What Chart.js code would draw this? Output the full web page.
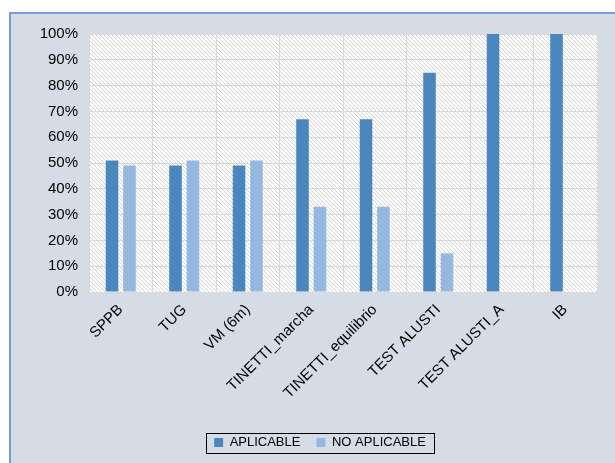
<!DOCTYPE html>
<html>
<head>
<meta charset="utf-8">
<script src="https://cdn.jsdelivr.net/npm/chart.js@4"></script>
<style>
  html, body { margin: 0; padding: 0; background: #ffffff; overflow: hidden; }
  body { width: 615px; height: 463px; position: relative; }
  #box { position: absolute; left: 9px; top: 12px; width: 630px; height: 460px;
         background: #d6dce5; border-left: 2px solid #6fa1d9; border-top: 2px solid #6fa1d9; }
  #c { position: absolute; left: 0; top: 0; }
</style>
</head>
<body>
<div id="box"><canvas id="c" width="618" height="449"></canvas></div>
<script>
const categories = ["SPPB", "TUG", "VM (6m)", "TINETTI_marcha", "TINETTI_equilibrio", "TEST ALUSTI", "TEST ALUSTI_A", "IB"];
const aplicable = [51, 49, 49, 67, 67, 85, 100, 100];
const noAplicable = [49, 51, 51, 33, 33, 15, 0, 0];
const seriesNames = ["APLICABLE", "NO APLICABLE"];
const yTicks = [0, 10, 20, 30, 40, 50, 60, 70, 80, 90, 100];

const FONT = "'Liberation Sans', Arial, Helvetica, sans-serif";

function makeHatch() {
  const p = document.createElement('canvas');
  p.width = 4; p.height = 4;
  const g = p.getContext('2d');
  g.fillStyle = '#ffffff';
  g.fillRect(0, 0, 4, 4);
  g.strokeStyle = '#d4d4d4';
  g.lineWidth = 1;
  g.beginPath();
  g.moveTo(-1, -1); g.lineTo(5, 5);
  g.moveTo(-1, 3); g.lineTo(1, 5);
  g.moveTo(3, -1); g.lineTo(5, 1);
  g.stroke();
  return p;
}

const hatchPlugin = {
  id: 'hatch',
  beforeDraw(chart) {
    const { ctx, chartArea: a } = chart;
    ctx.save();
    ctx.fillStyle = ctx.createPattern(makeHatch(), 'repeat');
    ctx.fillRect(a.left, a.top, a.right - a.left, a.bottom - a.top);
    ctx.restore();
  }
};

const legendShift = {
  id: 'legendShift',
  afterLayout(chart) {
    const lg = chart.legend;
    if (!lg) return;
    lg.left += 16;
    lg.right += 16;
  }
};

const legendBorder = {
  id: 'legendBorder',
  afterDraw(chart) {
    const lg = chart.legend;
    if (!lg || !lg.legendHitBoxes || !lg.legendHitBoxes.length) return;
    const hb = lg.legendHitBoxes;
    const first = hb[0], last = hb[hb.length - 1];
    const x0 = first.left - 8, x1 = last.left + last.width + 8;
    const cy = first.top + first.height / 2;
    const y0 = cy - 10, y1 = cy + 10;
    const ctx = chart.ctx;
    ctx.save();
    ctx.strokeStyle = '#000000';
    ctx.lineWidth = 1;
    ctx.strokeRect(Math.round(x0) + 0.5, Math.round(y0) + 0.5, Math.round(x1 - x0), Math.round(y1 - y0));
    ctx.restore();
  }
};

new Chart(document.getElementById('c'), {
  type: 'bar',
  data: {
    labels: categories,
    datasets: [
      { label: seriesNames[0], data: aplicable, backgroundColor: '#4b87bf', borderWidth: 0,
        categoryPercentage: 0.55, barPercentage: 0.72 },
      { label: seriesNames[1], data: noAplicable, backgroundColor: '#95b8e1', borderWidth: 0,
        categoryPercentage: 0.55, barPercentage: 0.72 }
    ]
  },
  options: {
    responsive: false,
    animation: false,
    devicePixelRatio: 1,
    layout: { padding: { top: 14, right: 32, bottom: 4, left: 0 } },
    plugins: {
      legend: {
        position: 'bottom',
        labels: {
          font: { family: FONT, size: 13 },
          color: '#000000',
          boxWidth: 9, boxHeight: 9,
          padding: 16
        }
      },
      tooltip: { enabled: false }
    },
    scales: {
      x: {
        grid: { color: '#d9d9d9', lineWidth: 1, drawTicks: false, offset: true },
        border: { color: '#d9d9d9' },
        ticks: {
          font: { family: FONT, size: 15 },
          color: '#000000',
          minRotation: 45, maxRotation: 45,
          autoSkip: false,
          padding: 9
        },
        afterFit(axis) { axis.height = 128; }
      },
      y: {
        min: 0, max: 100,
        afterBuildTicks(axis) { axis.ticks = yTicks.map(v => ({ value: v })); },
        grid: { color: '#d9d9d9', lineWidth: 1, drawTicks: false },
        border: { color: '#d9d9d9' },
        ticks: {
          font: { family: FONT, size: 15 },
          color: '#000000',
          padding: 11,
          callback: v => v + '%'
        },
        afterFit(axis) { axis.width = 78; }
      }
    }
  },
  plugins: [hatchPlugin, legendShift, legendBorder]
});
</script>
</body>
</html>
